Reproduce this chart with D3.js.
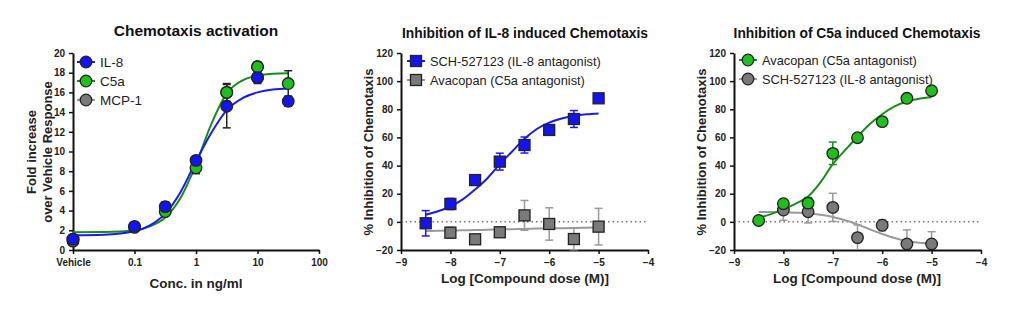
<!DOCTYPE html>
<html>
<head>
<meta charset="utf-8">
<script src="https://cdn.jsdelivr.net/npm/d3@7"></script>
<style>
  body { margin: 0; background: #fff; }
  text { font-family: Arial, "Liberation Sans", sans-serif; }
  .tick text { font-weight: bold; font-size: 10px; fill: #222; }
</style>
</head>
<body>
<script>
// ---- panel 1 : chemotaxis activation (fold over vehicle) ----
var concs = [0.01, 0.1, 0.316, 1, 3.16, 10, 31.6];   // 0.01 = Vehicle
var il8 = [1.1, 2.4, 4.4, 9.1, 14.6, 17.5, 15.1];
var il8Err = [0.3, 0.2, 0.5, 0.4, 2.2, 0.6, 0.5];
var c5a = [1.1, 2.3, 3.9, 8.35, 16.0, 18.6, 16.9];
var c5aErr = [0.2, 0.2, 0.3, 0.6, 0.9, 0.5, 1.3];
var mcp1Conc = [0.01];
var mcp1 = [0.9];
var mcp1Err = [0.4];
// fitted curves (log10 conc, value)
var fitLogConc = [-2, -1.5, -1, -0.75, -0.5, -0.25, 0, 0.25, 0.5, 0.75, 1, 1.25, 1.5];
var il8Fit = [1.5, 1.55, 1.9, 2.5, 3.7, 5.9, 9.0, 11.9, 14.2, 15.4, 16.0, 16.3, 16.4];
var c5aFit = [1.8, 1.82, 2.0, 2.4, 3.3, 5.3, 8.7, 12.8, 15.9, 17.2, 17.7, 17.9, 17.95];
var p1Ticks = [0.01, 0.1, 1, 10, 100];
var p1YTicks = d3.range(0, 21, 2);

// ---- panel 2 : inhibition of IL-8 induced chemotaxis ----
var logDose = [-8.5, -8, -7.5, -7, -6.5, -6, -5.5, -5];
var sch8 = [-1, 12.7, 29.7, 42.8, 54.6, 65.3, 73.1, 87.8];
var sch8Err = [9, 4, 3.6, 6, 5.7, 1.5, 6, 2];
var avaDose8 = [-8, -7.5, -7, -6.5, -6, -5.5, -5];
var ava8 = [-7.7, -12.4, -7.4, 4.6, -1.5, -12.2, -3.4];
var ava8Err = [4, 1, 1, 10.6, 11.5, 7.6, 13];
var fitLogDose = [-8.5, -8.25, -8, -7.75, -7.5, -7.25, -7, -6.75, -6.5, -6.25, -6, -5.75, -5.5, -5.25, -5];
var sch8Fit = [5, 7.5, 11, 16, 23, 31, 41, 50, 59, 66, 70.5, 73.5, 75.3, 76.4, 77];
var ava8Fit = [-6.5, -6.4, -6.2, -6.0, -5.8, -5.6, -5.4, -5.2, -5.0, -4.8, -4.6, -4.5, -4.3, -4.1, -4.0];

// ---- panel 3 : inhibition of C5a induced chemotaxis ----
var avaC5 = [1, 12.9, 13.3, 48.7, 59.8, 71.2, 87.8, 93.2];
var avaC5Err = [1.5, 3, 4, 8, 1.5, 2, 2, 1.5];
var schDoseC5 = [-8, -7.5, -7, -6.5, -6, -5.5, -5];
var schC5 = [8.4, 7.2, 10.3, -11.2, -2.4, -15.7, -15.7];
var schC5Err = [7.3, 8, 10, 9, 4, 10, 8.7];
var avaC5Fit = [3, 5.5, 9, 13, 18, 28, 41, 51, 60.5, 69.5, 76.5, 82, 85.5, 87.5, 88.5];
var schC5Fit = [7, 7, 6.8, 6.5, 6, 5, 3.5, 1.2, -1.8, -5.3, -8.6, -11.5, -13.6, -14.8, -15.3];

var doseTicks = [-9, -8, -7, -6, -5, -4];
var pctTicks = d3.range(-20, 121, 20);

var BLUE = '#1414f0', BLUE_LINE = '#1a1aee';
var GREEN = '#1fbf1f', GREEN_LINE = '#1a8c1a';
var GRAY = '#7a7a7a', GRAY_LINE = '#9a9a9a';

var svg = d3.select('body').append('svg').attr('width', 1024).attr('height', 312);

// 軸を描く
function drawAxes(g, x, y, xTicks, xFmt, yTicks) {
  var xa = g.append('g').attr('transform', 'translate(0,' + y.range()[0] + ')')
    .call(d3.axisBottom(x).tickValues(xTicks).tickFormat(xFmt).tickSize(4).tickSizeOuter(0));
  var ya = g.append('g').attr('transform', 'translate(' + x.range()[0] + ',0)')
    .call(d3.axisLeft(y).tickValues(yTicks).tickSize(4).tickSizeOuter(0));
  [xa, ya].forEach(function(a) {
    a.select('.domain').attr('stroke', '#111').attr('stroke-width', 2);
    a.selectAll('.tick line').attr('stroke', '#111').attr('stroke-width', 1.5);
  });
  xa.selectAll('.tick text').attr('dy', '0.9em');
  ya.selectAll('.tick text').attr('dx', '-0.1em');
}

function drawCurve(g, x, y, xs, ys, color) {
  var pts = xs.map(function(d, i) { return [d, ys[i]]; });
  g.append('path').datum(pts)
    .attr('fill', 'none').attr('stroke', color).attr('stroke-width', 2)
    .attr('d', d3.line().curve(d3.curveMonotoneX)
      .x(function(d) { return x(d[0]); }).y(function(d) { return y(d[1]); }));
}

function drawErr(g, x, y, xs, ys, errs, color) {
  var dom = y.domain();
  var data = xs.map(function(d, i) { return { x: d, y: ys[i], e: errs[i] }; });
  var grp = g.append('g').attr('stroke', color).attr('stroke-width', 1.5);
  data.forEach(function(d) {
    var lo = Math.max(dom[0], d.y - d.e), hi = Math.min(dom[1], d.y + d.e);
    var px = x(d.x);
    grp.append('line').attr('x1', px).attr('x2', px).attr('y1', y(lo)).attr('y2', y(hi));
    if (d.y - d.e > dom[0]) grp.append('line').attr('x1', px - 4).attr('x2', px + 4).attr('y1', y(lo)).attr('y2', y(lo));
    grp.append('line').attr('x1', px - 4).attr('x2', px + 4).attr('y1', y(hi)).attr('y2', y(hi));
  });
}

function marker(g, px, py, shape, fill) {
  if (shape === 'square') {
    g.append('rect').attr('x', px - 5.5).attr('y', py - 5.5).attr('width', 11).attr('height', 11)
      .attr('fill', fill).attr('stroke', '#222').attr('stroke-width', 1.3);
  } else {
    g.append('circle').attr('cx', px).attr('cy', py).attr('r', 5.8)
      .attr('fill', fill).attr('stroke', '#222').attr('stroke-width', 1.3);
  }
}

function drawPoints(g, x, y, xs, ys, shape, fill) {
  xs.forEach(function(d, i) { marker(g, x(d), y(ys[i]), shape, fill); });
}

function legend(g, lx, ly, items, shape) {
  items.forEach(function(it, i) {
    var yy = ly + i * 19;
    g.append('line').attr('x1', lx - 9).attr('x2', lx + 9).attr('y1', yy).attr('y2', yy)
      .attr('stroke', it.line).attr('stroke-width', 2);
    marker(g, lx, yy, shape, it.fill);
    g.append('text').attr('x', lx + 14).attr('y', yy).attr('dy', '0.36em')
      .attr('font-size', it.size || 12.8).attr('fill', '#222').text(it.label);
  });
}

function titles(g, cx, title, tSize, tY, xlab, xlY, ylabs, ylx, cy) {
  g.append('text').attr('x', cx).attr('y', tY).attr('text-anchor', 'middle')
    .attr('font-size', tSize).attr('font-weight', 'bold').attr('fill', '#111').text(title);
  g.append('text').attr('x', cx).attr('y', xlY).attr('text-anchor', 'middle')
    .attr('font-size', 13.5).attr('font-weight', 'bold').attr('fill', '#222').text(xlab);
  ylabs.forEach(function(t, i) {
    g.append('text').attr('transform', 'translate(' + (ylx + i * 15.5) + ',' + cy + ') rotate(-90)')
      .attr('text-anchor', 'middle').attr('font-size', 13).attr('font-weight', 'bold')
      .attr('fill', '#222').text(t);
  });
}

// ---- panel 1 ----
(function() {
  var g = svg.append('g');
  var x = d3.scaleLog().domain([0.01, 100]).range([73, 319]);
  var y = d3.scaleLinear().domain([0, 20]).range([250, 53]);
  drawAxes(g, x, y, p1Ticks, function(d) { return d === 0.01 ? 'Vehicle' : String(d); }, p1YTicks);
  var lx = function(v) { return x(Math.pow(10, v)); };
  drawCurve(g, lx, y, fitLogConc, c5aFit, GREEN_LINE);
  drawCurve(g, lx, y, fitLogConc, il8Fit, BLUE_LINE);
  drawErr(g, x, y, mcp1Conc, mcp1, mcp1Err, '#222');
  drawErr(g, x, y, concs, c5a, c5aErr, '#222');
  drawErr(g, x, y, concs, il8, il8Err, '#222');
  drawPoints(g, x, y, mcp1Conc, mcp1, 'circle', GRAY);
  drawPoints(g, x, y, concs, c5a, 'circle', GREEN);
  drawPoints(g, x, y, concs, il8, 'circle', BLUE);
  // keep the last green/blue overlaps as in the picture
  drawPoints(g, x, y, [3.16, 10], [c5a[4], c5a[5]], 'circle', GREEN);
  drawPoints(g, x, y, [10], [il8[5]], 'circle', BLUE);
  legend(g, 86, 62, [
    { label: 'IL-8', fill: BLUE, line: BLUE_LINE, size: 13.5 },
    { label: 'C5a', fill: GREEN, line: GREEN_LINE, size: 13.5 },
    { label: 'MCP-1', fill: GRAY, line: GRAY_LINE, size: 13.5 }
  ], 'circle');
  titles(g, 196, 'Chemotaxis activation', 15.5, 36, 'Conc. in ng/ml', 288,
    ['Fold increase', 'over Vehicle Response'], 36, 152);
})();

// ---- panel 2 ----
(function() {
  var g = svg.append('g');
  var x = d3.scaleLinear().domain([-9, -4]).range([401, 648]);
  var y = d3.scaleLinear().domain([-20, 120]).range([250, 53]);
  drawAxes(g, x, y, doseTicks, d3.format('d'), pctTicks);
  g.append('line').attr('x1', x(-9)).attr('x2', x(-4)).attr('y1', y(0)).attr('y2', y(0))
    .attr('stroke', '#333').attr('stroke-width', 1).attr('stroke-dasharray', '1.5,3');
  drawCurve(g, x, y, fitLogDose, ava8Fit, GRAY_LINE);
  drawCurve(g, x, y, fitLogDose, sch8Fit, BLUE_LINE);
  drawErr(g, x, y, avaDose8, ava8, ava8Err, GRAY_LINE);
  drawErr(g, x, y, logDose, sch8, sch8Err, BLUE_LINE);
  drawPoints(g, x, y, avaDose8, ava8, 'square', GRAY);
  drawPoints(g, x, y, logDose, sch8, 'square', BLUE);
  legend(g, 416, 61, [
    { label: 'SCH-527123 (IL-8 antagonist)', fill: BLUE, line: BLUE_LINE },
    { label: 'Avacopan (C5a antagonist)', fill: GRAY, line: GRAY_LINE }
  ], 'square');
  titles(g, 525, 'Inhibition of IL-8 induced Chemotaxis', 13.8, 38, 'Log [Compound dose (M)]', 283,
    ['% Inhibition of Chemotaxis'], 373, 152);
})();

// ---- panel 3 ----
(function() {
  var g = svg.append('g');
  var x = d3.scaleLinear().domain([-9, -4]).range([734, 981]);
  var y = d3.scaleLinear().domain([-20, 120]).range([250, 53]);
  drawAxes(g, x, y, doseTicks, d3.format('d'), pctTicks);
  g.append('line').attr('x1', x(-9)).attr('x2', x(-4)).attr('y1', y(0)).attr('y2', y(0))
    .attr('stroke', '#333').attr('stroke-width', 1).attr('stroke-dasharray', '1.5,3');
  drawCurve(g, x, y, fitLogDose, schC5Fit, GRAY_LINE);
  drawCurve(g, x, y, fitLogDose, avaC5Fit, GREEN_LINE);
  drawErr(g, x, y, schDoseC5, schC5, schC5Err, GRAY_LINE);
  drawErr(g, x, y, logDose, avaC5, avaC5Err, GREEN_LINE);
  drawPoints(g, x, y, schDoseC5, schC5, 'circle', GRAY);
  drawPoints(g, x, y, logDose, avaC5, 'circle', GREEN);
  legend(g, 748, 60, [
    { label: 'Avacopan (C5a antagonist)', fill: GREEN, line: GREEN_LINE },
    { label: 'SCH-527123 (IL-8 antagonist)', fill: GRAY, line: GRAY_LINE }
  ], 'circle');
  titles(g, 857, 'Inhibition of C5a induced Chemotaxis', 13.8, 38, 'Log [Compound dose (M)]', 283,
    ['% Inhibition of Chemotaxis'], 706, 152);
})();
</script>
</body>
</html>
